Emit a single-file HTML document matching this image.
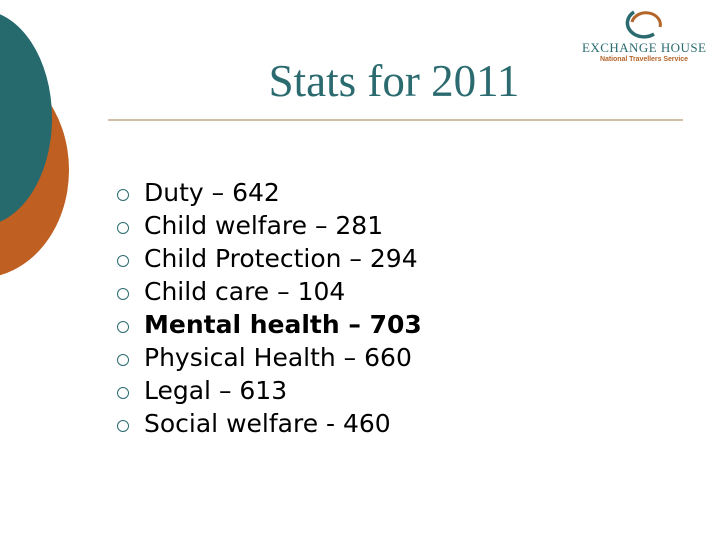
<!DOCTYPE html>
<html><head><meta charset="utf-8"><style>
body{margin:0;width:720px;height:540px;background:#fff;position:relative;overflow:hidden;font-family:"DejaVu Sans","Liberation Sans",sans-serif}
.t{position:absolute;left:0;width:788px;top:55px;text-align:center;font-family:"Liberation Serif",serif;font-size:45px;color:#2b6b70}
ul{position:absolute;left:114px;top:176px;margin:0;padding:0;list-style:none}
li{height:33px;line-height:33px;font-size:25px;color:#000;position:relative;padding-left:30px;white-space:nowrap}
li::before{content:"";position:absolute;left:3px;top:13px;width:10px;height:10px;border:1px solid #2b6b70;border-radius:50%}
</style></head><body>
<svg width="720" height="540" style="position:absolute;left:0;top:0">
<ellipse cx="-20" cy="170" rx="89" ry="108" fill="#bf5f22"/>
<ellipse cx="-20" cy="118" rx="72" ry="108" fill="#266a6e"/>
<line x1="108" y1="120" x2="683" y2="120" stroke="#a08050" stroke-width="1"/>
<g>
<path d="M634 12 A12 10 0 1 0 654 34" fill="none" stroke="#2b6b70" stroke-width="3.5"/>
<path d="M632 22 A11 9 0 0 1 660 27" fill="none" stroke="#b3652a" stroke-width="3"/>
<text x="644" y="52" text-anchor="middle" font-family="Liberation Serif,serif" font-size="13" fill="#2b6b70" textLength="124">EXCHANGE HOUSE</text>
<text x="644" y="61" text-anchor="middle" font-family="Liberation Sans,sans-serif" font-weight="bold" font-size="7" fill="#b3652a" textLength="88">National Travellers Service</text>
</g>
</svg>
<div class="t">Stats for 2011</div>
<ul>
<li>Duty – 642</li>
<li>Child welfare – 281</li>
<li>Child Protection – 294</li>
<li>Child care – 104</li>
<li style="font-weight:bold">Mental health – 703</li>
<li>Physical Health – 660</li>
<li>Legal – 613</li>
<li>Social welfare - 460</li>
</ul>
</body></html>
